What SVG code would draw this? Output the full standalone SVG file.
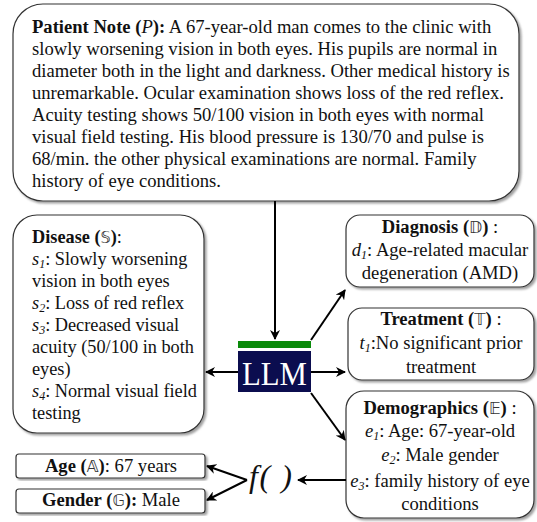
<svg xmlns="http://www.w3.org/2000/svg" width="537" height="522" viewBox="0 0 537 522">
<style>
.box{fill:#fff;stroke:#333;stroke-width:1.2;filter:url(#sh)}
.t{font-family:"Liberation Serif","Times New Roman",serif;font-size:18.6px;fill:#111}
.sm{font-size:18.3px}
.c{text-anchor:middle}
.b{font-weight:bold}
.i{font-style:italic}
.sub{font-style:italic;font-size:12px}
.ds{font-family:"DejaVu Sans","Noto Sans",sans-serif;font-weight:normal;font-size:16px;fill:#333}
.con{stroke:#000;stroke-width:2;fill:none;marker-end:url(#ah)}
</style>
<defs>
<filter id="sh" x="-10%" y="-10%" width="120%" height="120%">
<feDropShadow dx="2" dy="2" stdDeviation="1" flood-color="#888" flood-opacity="0.8"/>
</filter>
<marker id="ah" viewBox="0 0 10 10" refX="9" refY="5" markerWidth="5" markerHeight="5" orient="auto" markerUnits="strokeWidth">
<path d="M0,0 L10,5 L0,10 L3,5 z" fill="#000"/>
</marker>
</defs>

<g id="patient-note">
<rect class="box" x="13" y="4" width="506" height="197" rx="30"/>
<text class="t" x="32" y="32.5"><tspan class="b">Patient Note (</tspan><tspan class="i">P</tspan><tspan class="b">):</tspan> A 67-year-old man comes to the clinic with</text>
<text class="t" x="32" y="54.5">slowly worsening vision in both eyes. His pupils are normal in</text>
<text class="t" x="32" y="76.5">diameter both in the light and darkness. Other medical history is</text>
<text class="t" x="32" y="98.5">unremarkable. Ocular examination shows loss of the red reflex.</text>
<text class="t" x="32" y="120.5">Acuity testing shows 50/100 vision in both eyes with normal</text>
<text class="t" x="32" y="142.5">visual field testing. His blood pressure is 130/70 and pulse is</text>
<text class="t" x="32" y="164.5">68/min. the other physical examinations are normal. Family</text>
<text class="t" x="32" y="186.5">history of eye conditions.</text>
</g>

<g id="disease">
<rect class="box" x="13" y="215" width="191" height="218" rx="24"/>
<text class="t sm" x="32" y="243"><tspan class="b">Disease (</tspan><tspan class="ds">𝕊</tspan><tspan class="b">)</tspan>:</text>
<text class="t sm" x="32" y="265"><tspan class="i">s</tspan><tspan class="sub" dy="3">1</tspan><tspan dy="-3">: Slowly worsening</tspan></text>
<text class="t sm" x="32" y="287">vision in both eyes</text>
<text class="t sm" x="32" y="309"><tspan class="i">s</tspan><tspan class="sub" dy="3">2</tspan><tspan dy="-3">: Loss of red reflex</tspan></text>
<text class="t sm" x="32" y="331"><tspan class="i">s</tspan><tspan class="sub" dy="3">3</tspan><tspan dy="-3">: Decreased visual</tspan></text>
<text class="t sm" x="32" y="353">acuity (50/100 in both</text>
<text class="t sm" x="32" y="375">eyes)</text>
<text class="t sm" x="32" y="397"><tspan class="i">s</tspan><tspan class="sub" dy="3">4</tspan><tspan dy="-3">: Normal visual field</tspan></text>
<text class="t sm" x="32" y="419">testing</text>
</g>

<g id="llm">
<rect x="238" y="341" width="73" height="7" fill="#0a8a0a"/>
<rect x="238" y="351" width="73" height="41" fill="#0b0d4f"/>
<text x="242" y="384.5" font-family="Liberation Serif, serif" font-size="33" fill="#fff" textLength="65" lengthAdjust="spacingAndGlyphs">LLM</text>
</g>

<g id="diagnosis">
<rect class="box" x="346" y="215" width="188" height="72" rx="14"/>
<text class="t c" x="440" y="233"><tspan class="b">Diagnosis (</tspan><tspan class="ds">𝔻</tspan><tspan class="b">)</tspan> :</text>
<text class="t c" x="440" y="256"><tspan class="i">d</tspan><tspan class="sub" dy="3">1</tspan><tspan dy="-3">: Age-related macular</tspan></text>
<text class="t c" x="440" y="279">degeneration (AMD)</text>
</g>

<g id="treatment">
<rect class="box" x="348" y="308" width="186" height="72" rx="14"/>
<text class="t c" x="441" y="325"><tspan class="b">Treatment (</tspan><tspan class="ds">𝕋</tspan><tspan class="b">)</tspan> :</text>
<text class="t c" x="441" y="349"><tspan class="i">t</tspan><tspan class="sub" dy="3">1</tspan><tspan dy="-3">:No significant prior</tspan></text>
<text class="t c" x="441" y="373">treatment</text>
</g>

<g id="demographics">
<rect class="box" x="346" y="391" width="188" height="127" rx="18"/>
<text class="t c" x="440" y="414"><tspan class="b">Demographics (</tspan><tspan class="ds">𝔼</tspan><tspan class="b">)</tspan> :</text>
<text class="t c" x="440" y="437"><tspan class="i">e</tspan><tspan class="sub" dy="3">1</tspan><tspan dy="-3">: Age: 67-year-old</tspan></text>
<text class="t c" x="440" y="461"><tspan class="i">e</tspan><tspan class="sub" dy="3">2</tspan><tspan dy="-3">: Male gender</tspan></text>
<text class="t c" x="440" y="487"><tspan class="i">e</tspan><tspan class="sub" dy="3">3</tspan><tspan dy="-3">: family history of eye</tspan></text>
<text class="t c" x="440" y="510">conditions</text>
</g>

<g id="f">
<text x="249" y="486.5" font-family="Liberation Serif, serif" font-style="italic" font-size="32" fill="#111" textLength="43">f( )</text>
</g>

<g id="age">
<rect class="box" x="16" y="454" width="189" height="24" rx="3"/>
<text class="t c" x="111" y="472"><tspan class="b">Age (</tspan><tspan class="ds">𝔸</tspan><tspan class="b">)</tspan>: 67 years</text>
</g>

<g id="gender">
<rect class="box" x="16" y="489" width="189" height="24" rx="3"/>
<text class="t c" x="111" y="506"><tspan class="b">Gender (</tspan><tspan class="ds">𝔾</tspan><tspan class="b">): </tspan>Male</text>
</g>

<g id="connectors">
<line class="con" x1="275" y1="201" x2="275" y2="339"/>
<line class="con" x1="238" y1="372" x2="206" y2="372"/>
<line class="con" x1="311" y1="372" x2="345" y2="372"/>
<line class="con" x1="311" y1="340" x2="345" y2="290"/>
<line class="con" x1="311" y1="393" x2="345" y2="440"/>
<line class="con" x1="346" y1="480" x2="298" y2="480"/>
<line class="con" x1="247" y1="480" x2="207" y2="466"/>
<line class="con" x1="247" y1="480" x2="207" y2="500"/>
</g>
</svg>
